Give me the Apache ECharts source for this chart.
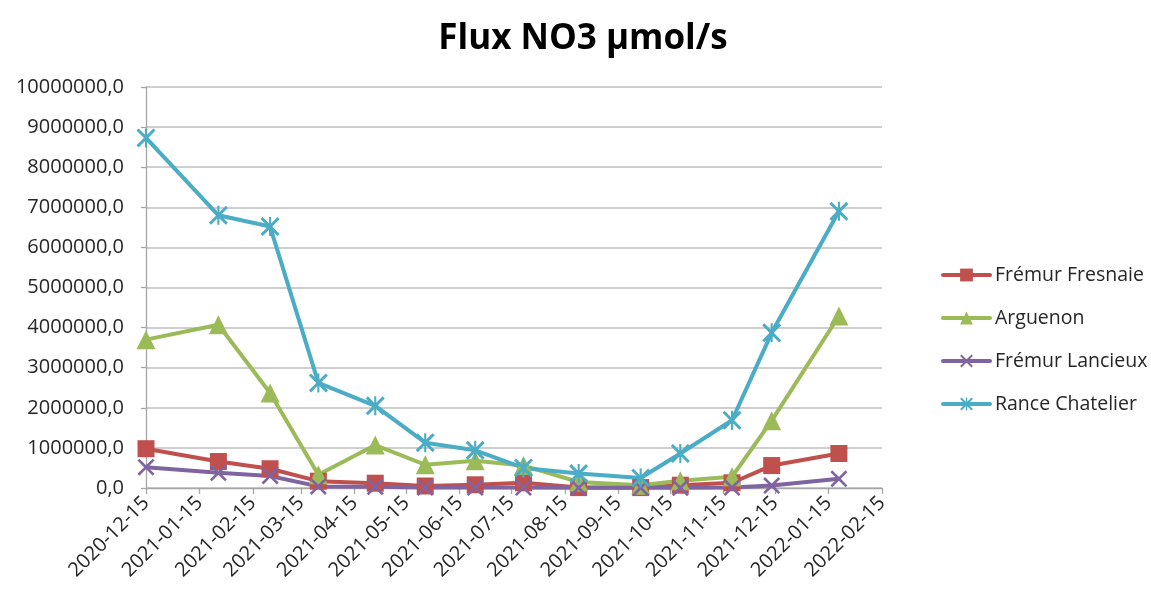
<!DOCTYPE html>
<html>
<head>
<meta charset="utf-8">
<title>Flux NO3 µmol/s</title>
<script src="https://cdn.jsdelivr.net/npm/echarts@6/dist/echarts.min.js"></script>
<style>
  html, body { margin: 0; padding: 0; background: #ffffff; }
  #chart { width: 1151px; height: 596px; }
</style>
</head>
<body>
<div id="chart"></div>
<script>
// Sampling dates shared by all four stations
const sampleDates = ['2020-12-15', '2021-01-26', '2021-02-25', '2021-03-25', '2021-04-27', '2021-05-26', '2021-06-24',
                     '2021-07-22', '2021-08-23', '2021-09-28', '2021-10-21', '2021-11-20', '2021-12-13', '2022-01-21'];

// Nitrate flux per station (µmol/s)
const fremurFresnaie = [980000, 660000, 480000, 170000, 120000, 50000, 80000, 130000, 10000, 10000, 70000, 130000, 560000, 860000];
const arguenon       = [3700000, 4070000, 2370000, 330000, 1070000, 580000, 680000, 560000, 150000, 70000, 180000, 280000, 1680000, 4290000];
const fremurLancieux = [520000, 380000, 300000, 40000, 30000, 10000, 10000, 10000, 5000, 5000, 5000, 10000, 60000, 230000];
const ranceChatelier = [8730000, 6800000, 6520000, 2620000, 2050000, 1130000, 940000, 500000, 360000, 250000, 860000, 1690000, 3870000, 6900000];

// Monthly tick labels on the date axis
const monthTicks = ['2020-12-15', '2021-01-15', '2021-02-15', '2021-03-15', '2021-04-15', '2021-05-15', '2021-06-15', '2021-07-15',
                    '2021-08-15', '2021-09-15', '2021-10-15', '2021-11-15', '2021-12-15', '2022-01-15', '2022-02-15'];

const seriesNames = ['Frémur Fresnaie', 'Arguenon', 'Frémur Lancieux', 'Rance Chatelier'];

function toTime(s) {
  const p = s.split('-').map(Number);
  return new Date(p[0], p[1] - 1, p[2]).getTime();
}
function pad(n) { return (n < 10 ? '0' : '') + n; }
function fmtDate(v) {
  const d = new Date(v);
  return d.getFullYear() + '-' + pad(d.getMonth() + 1) + '-' + pad(d.getDate());
}
function pairs(values) {
  return values.map((v, i) => [toTime(sampleDates[i]), v]);
}

// Marker shapes: a thin "x" cross and a six-armed asterisk
const crossPath = 'path://M0,1.1L1.1,0L5,3.9L8.9,0L10,1.1L6.1,5L10,8.9L8.9,10L5,6.1L1.1,10L0,8.9L3.9,5Z';
const starPath = 'path://M0,1.1L1.1,0L5,3.9L8.9,0L10,1.1L6.1,5L10,8.9L8.9,10L5,6.1L1.1,10L0,8.9L3.9,5Z' +
                 'M4.45,0L5.55,0L5.55,10L4.45,10Z';

const FONT = '"Open Sans", "Noto Sans", sans-serif';
const tickTimes = monthTicks.map(toTime);

const chart = echarts.init(document.getElementById('chart'), null, { renderer: 'canvas' });

function lineSeries(name, values, color, symbol, size) {
  return {
    name: name,
    type: 'line',
    data: pairs(values),
    symbol: symbol,
    symbolSize: size,
    showAllSymbol: true,
    color: color,
    lineStyle: { width: 4, color: color, join: 'round', cap: 'round' },
    itemStyle: { color: color, borderColor: color, borderWidth: 0 },
    emphasis: { disabled: true },
    animation: false
  };
}

chart.setOption({
  backgroundColor: '#ffffff',
  animation: false,
  title: {
    text: 'Flux NO3 µmol/s',
    left: 578,
    top: 17,
    textAlign: 'center',
    textStyle: { fontFamily: FONT, fontWeight: 'bold', fontSize: 35, color: '#000000' }
  },
  legend: {
    orient: 'vertical',
    left: 936,
    top: 260,
    itemWidth: 47,
    itemHeight: 16,
    itemGap: 23,
    data: seriesNames,
    lineStyle: { width: 4 },
    textStyle: { fontFamily: FONT, fontSize: 19.5, color: '#262626', lineHeight: 20 }
  },
  grid: {
    left: 146,
    right: 269,
    top: 87,
    bottom: 108,
    containLabel: false,
    outerBoundsMode: 'none'
  },
  xAxis: {
    type: 'value',
    min: toTime(monthTicks[0]),
    max: toTime(monthTicks[monthTicks.length - 1]),
    axisLine: { show: true, lineStyle: { color: '#a6a6a6', width: 1.3 } },
    axisTick: { show: true, customValues: tickTimes, length: 6, inside: false, lineStyle: { color: '#a6a6a6', width: 1.3 } },
    axisLabel: {
      customValues: tickTimes,
      rotate: 45,
      margin: 12,
      fontFamily: FONT,
      fontSize: 20,
      color: '#262626',
      formatter: fmtDate
    },
    splitLine: { show: false }
  },
  yAxis: {
    type: 'value',
    min: 0,
    max: 10000000,
    interval: 1000000,
    axisLine: { show: true, lineStyle: { color: '#a6a6a6', width: 1.3 } },
    axisTick: { show: true, length: 5, lineStyle: { color: '#a6a6a6', width: 1.3 } },
    axisLabel: {
      margin: 22,
      fontFamily: FONT,
      fontSize: 20,
      color: '#262626',
      formatter: v => v.toFixed(1).replace('.', ',')
    },
    splitLine: { show: true, lineStyle: { color: '#bfbfbf', width: 1.5 } }
  },
  series: [
    lineSeries(seriesNames[0], fremurFresnaie, '#c0504d', 'rect', 17),
    lineSeries(seriesNames[1], arguenon, '#9bbb59', 'triangle', 19),
    lineSeries(seriesNames[2], fremurLancieux, '#8064a2', crossPath, 17),
    lineSeries(seriesNames[3], ranceChatelier, '#4bacc6', starPath, 19)
  ]
});
</script>
</body>
</html>
